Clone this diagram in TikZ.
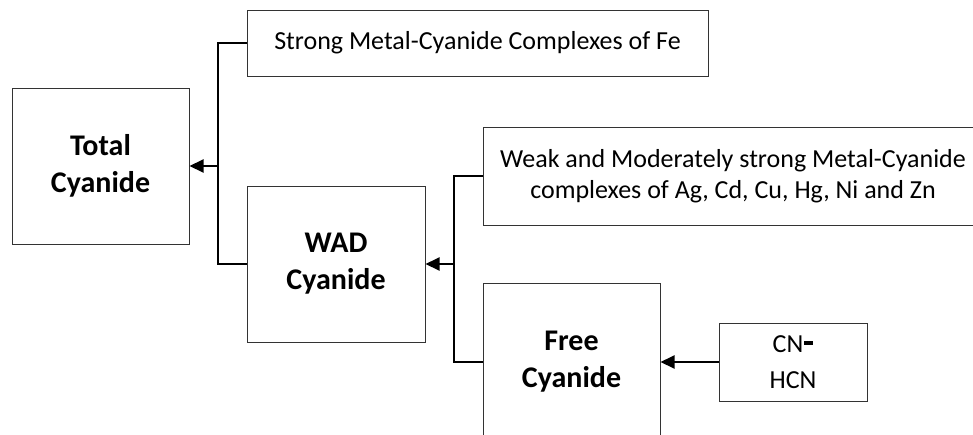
\documentclass[tikz,border=0pt]{standalone}
\usepackage{fontspec}
\setmainfont{Carlito}
\usetikzlibrary{arrows.meta}
\begin{document}
\begin{tikzpicture}[x=1pt,y=-1pt,
  box/.style={draw=black!80, line width=1pt, inner sep=0pt, align=center, anchor=center},
  reg/.style={font=\fontsize{26}{31}\selectfont},
  big/.style={font=\fontsize{30}{37}\selectfont\bfseries},
  conn/.style={draw=black, line width=2pt},
  arr/.style={conn, -{Triangle[length=14pt,width=13pt]}}]
\useasboundingbox (0,0) rectangle (973,434);
\clip (0,0) rectangle (973,434);
\node[box,big,minimum width=177pt,minimum height=156pt] (total) at (100.5,166) {Total\\Cyanide};
\node[box,reg,minimum width=461pt,minimum height=66pt] (strong) at (477.5,43) {Strong Metal-Cyanide Complexes of Fe};
\node[box,big,minimum width=178pt,minimum height=156pt] (wad) at (336,264) {WAD\\Cyanide};
\node[box,reg,minimum width=500pt,minimum height=98pt] (weak) at (733,176) {Weak and Moderately strong Metal-Cyanide\\complexes of Ag, Cd, Cu, Hg, Ni and Zn};
\node[box,big,minimum width=177pt,minimum height=158pt] (free) at (571.5,362) {Free\\Cyanide};
\node[box,reg,minimum width=148pt,minimum height=78pt] (cn) at (793,362) {CN\kern1pt\raisebox{7.5pt}{\rule{9pt}{4pt}}\\[5pt]HCN};
\coordinate (j1) at (218,166);
\coordinate (j2) at (454,264);
\draw[conn] (strong.west) -| (j1) |- (wad.west);
\draw[arr] (j1) -- (total.east);
\draw[conn] (weak.west) -| (j2) |- (free.west);
\draw[arr] (j2) -- (wad.east);
\draw[arr] (cn.west) -- (free.east);
\end{tikzpicture}
\end{document}
